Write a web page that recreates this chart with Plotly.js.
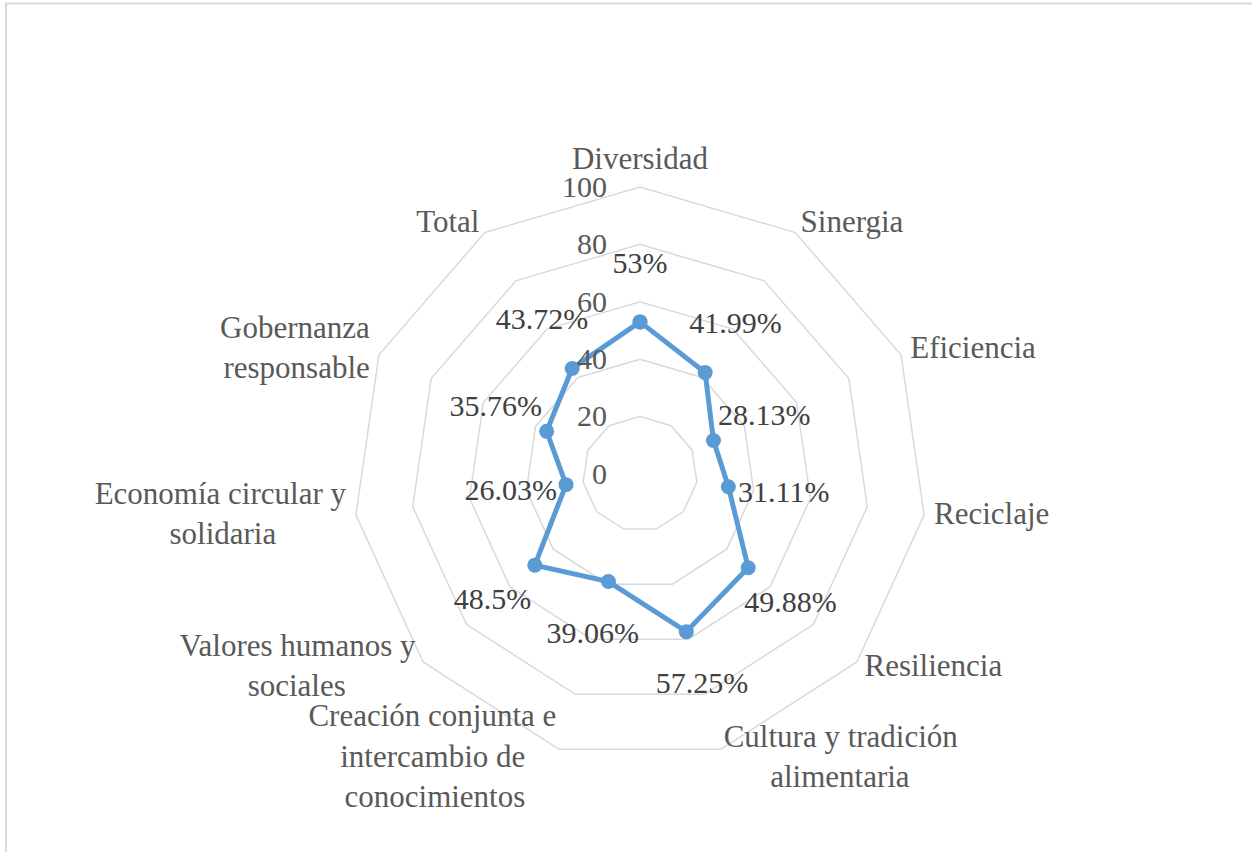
<!DOCTYPE html>
<html>
<head>
<meta charset="utf-8">
<script src="https://cdn.plot.ly/plotly-3.0.1.min.js"></script>
<style>
  html, body { margin: 0; padding: 0; background: #ffffff; }
  #chart { width: 1252px; height: 852px; }
</style>
</head>
<body>
<div id="chart"></div>
<script>
// Categories (clockwise from top)
const categories = [
  "Diversidad",
  "Sinergia",
  "Eficiencia",
  "Reciclaje",
  "Resiliencia",
  "Cultura y tradición<br>alimentaria",
  "Creación conjunta e<br>intercambio de<br>conocimientos",
  "Valores humanos y<br>sociales",
  "Economía circular y<br>solidaria",
  "Gobernanza<br>responsable",
  "Total"
];
// Values (%)
const values = [53, 41.99, 28.13, 31.11, 49.88, 57.25, 39.06, 48.5, 26.03, 35.76, 43.72];
// Radial tick values (grid rings)
const radialTicks = [0, 20, 40, 60, 80, 100];

const serif = "Liberation Serif";
const fontSize = 30;
const catFontSize = 31;
const labelOffset = 19.5;          // radial gap between a point and its data label
const categoryLabelRadius = 103.5; // category labels sit just outside the outer ring
const rangeMax = 104;              // axis range, a little beyond the 100 ring

// layout geometry of the polar area (pixels)
const W = 1252, H = 852;
const cx = 640, cy = 474, pxPer100 = 287;
const rPx = pxPer100 * rangeMax / 100;

// side of each category label, following its angle around the chart
const labelPositions = categories.map((c, i) => {
  const angle = i * 360 / categories.length;
  if (angle === 0) return "top center";
  return angle < 180 ? "middle right" : "middle left";
});

// centre the lines of a multi-line label inside its block
const ctx = document.createElement("canvas").getContext("2d");
ctx.font = catFontSize + "px '" + serif + "'";
const measure = s => ctx.measureText(s).width;
function centerLines(label, pos) {
  const lines = label.split("<br>");
  if (lines.length < 2 || pos.indexOf("center") !== -1) return label;
  const widths = lines.map(measure);
  const maxW = Math.max.apply(null, widths);
  const sp = measure("\u00a0");
  return lines.map((l, i) => {
    const pad = "\u00a0".repeat(Math.round((maxW - widths[i]) / 2 / sp));
    return pos.indexOf("right") !== -1 ? pad + l : l + pad;
  }).join("<br>");
}

const lineTrace = {
  type: "scatterpolar",
  r: values.concat([values[0]]),
  theta: categories.concat([categories[0]]),
  mode: "lines+markers",
  line: { color: "#5b9bd5", width: 5 },
  marker: { color: "#5b9bd5", size: 15 },
  hoverinfo: "skip",
  showlegend: false,
  cliponaxis: false
};

const valueLabelTrace = {
  type: "scatterpolar",
  r: values.map(v => v + labelOffset),
  theta: categories,
  mode: "text",
  text: values.map(v => v + "%"),
  textposition: "middle center",
  textfont: { family: serif, size: fontSize, color: "#404040" },
  hoverinfo: "skip",
  showlegend: false,
  cliponaxis: false
};

const categoryLabelTrace = {
  type: "scatterpolar",
  r: categories.map(() => categoryLabelRadius),
  theta: categories,
  mode: "text",
  text: categories.map((c, i) => centerLines(c, labelPositions[i])),
  textposition: labelPositions,
  textfont: { family: serif, size: catFontSize, color: "#595959" },
  hoverinfo: "skip",
  showlegend: false,
  cliponaxis: false
};

const layout = {
  width: W,
  height: H,
  margin: { l: 0, r: 0, t: 0, b: 0 },
  paper_bgcolor: "#ffffff",
  showlegend: false,
  font: { family: serif, size: fontSize, color: "#595959" },
  polar: {
    domain: { x: [(cx - rPx) / W, (cx + rPx) / W], y: [1 - (cy + rPx) / H, 1 - (cy - rPx) / H] },
    bgcolor: "rgba(0,0,0,0)",
    gridshape: "linear",
    angularaxis: {
      type: "category",
      categoryorder: "array",
      categoryarray: categories,
      rotation: 90,
      direction: "clockwise",
      showgrid: false,
      showline: false,
      ticks: "",
      showticklabels: false
    },
    radialaxis: {
      range: [0, rangeMax],
      tickvals: radialTicks,
      ticktext: radialTicks.map(String),
      angle: 90,
      tickangle: 90,
      side: "counterclockwise",
      showline: false,
      ticks: "outside",
      ticklen: 22,
      tickcolor: "rgba(0,0,0,0)",
      gridcolor: "#d9d9d9",
      gridwidth: 1.5,
      tickfont: { family: serif, size: fontSize, color: "#595959" }
    }
  },
  shapes: [{
    type: "rect", xref: "paper", yref: "paper",
    x0: 6 / W, x1: 1.02, y0: -0.02, y1: 1 - 3.5 / H,
    line: { color: "#d9d9d9", width: 2 },
    fillcolor: "rgba(0,0,0,0)",
    layer: "below"
  }]
};

Plotly.newPlot("chart", [lineTrace, valueLabelTrace, categoryLabelTrace], layout, { displayModeBar: false, staticPlot: true });
</script>
</body>
</html>
